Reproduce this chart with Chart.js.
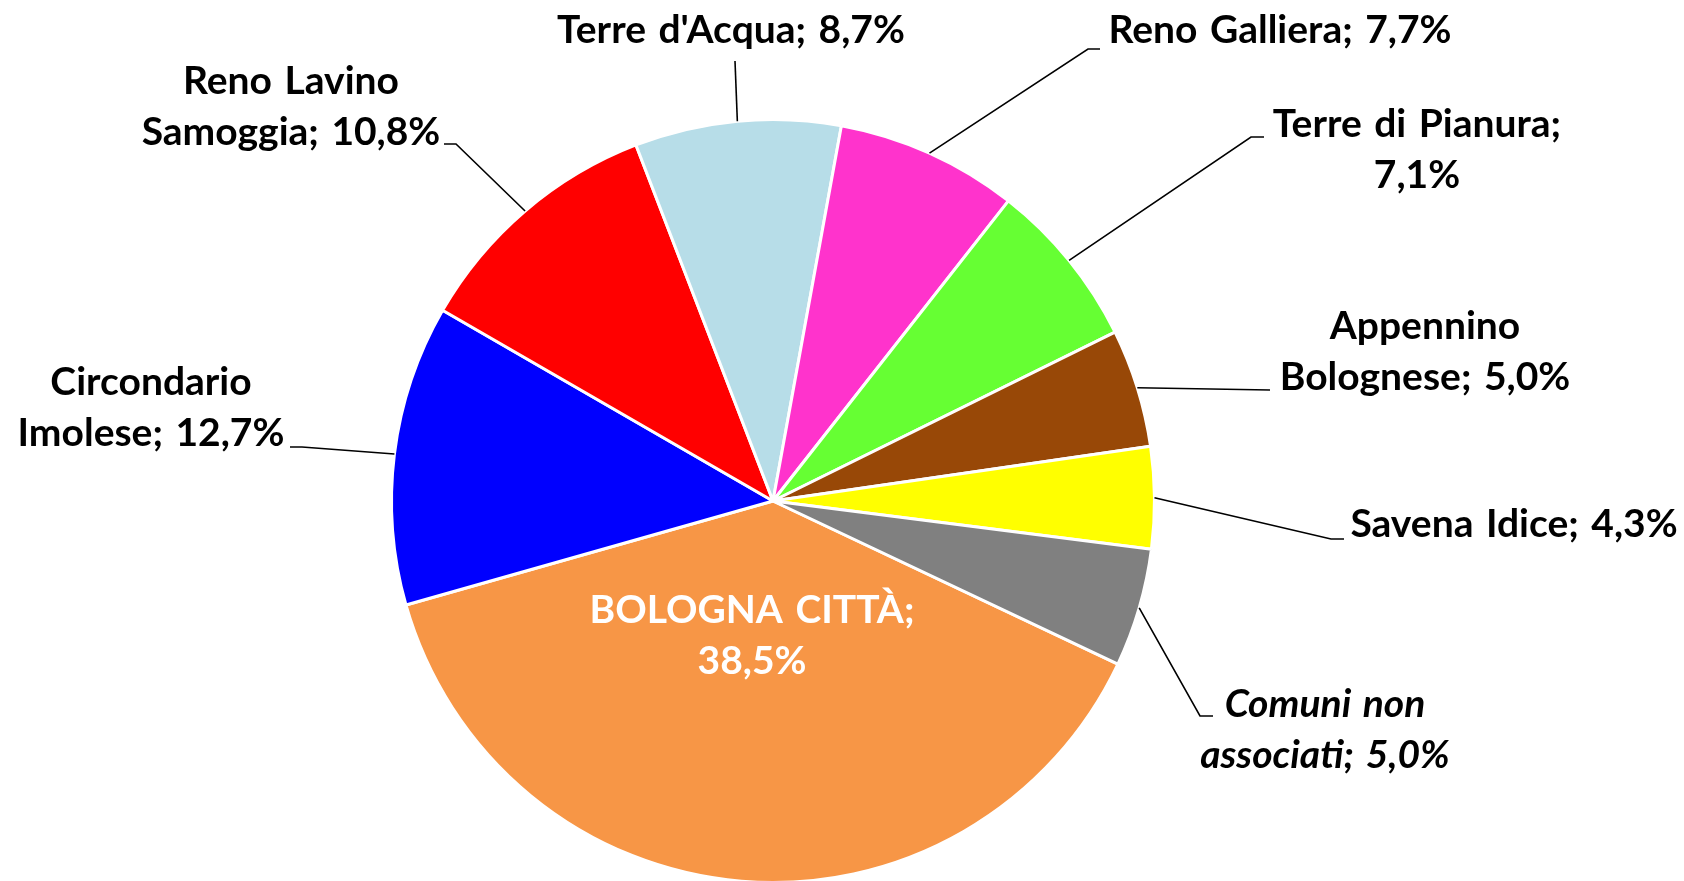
<!DOCTYPE html>
<html>
<head>
<meta charset="utf-8">
<script src="https://cdn.jsdelivr.net/npm/chart.js@4/dist/chart.umd.min.js"></script>
<style>
  html, body { margin: 0; padding: 0; background: #fff; overflow: hidden; }
  canvas { display: block; }
</style>
</head>
<body>
<canvas id="pieChart" width="1684" height="884"></canvas>
<script>
'use strict';

// share of the total, per area (percent)
const categories = ['BOLOGNA CITTÀ', 'Circondario Imolese', 'Reno Lavino Samoggia', "Terre d'Acqua", 'Reno Galliera', 'Terre di Pianura', 'Appennino Bolognese', 'Savena Idice', 'Comuni non associati'];
const shares = [38.5, 12.7, 10.8, 8.7, 7.7, 7.1, 5.0, 4.3, 5.0];
const sliceColors = ['#F79646', '#0000FF', '#FF0000', '#B7DDE8', '#FF33CC', '#66FF33', '#984807', '#FFFF00', '#808080'];

// where each data label sits (text centre x, first baseline y), wrap width and leader bends
const labelLayout = [
  {x: 752, y: 623, wrap: 330, color: '#ffffff'},
  {x: 151, y: 395, wrap: 310, leader: [[302, 447], [290, 447]]},
  {x: 291, y: 94, wrap: 340, leader: [[456, 144], [444, 144]]},
  {x: 731, y: 43, wrap: Infinity, leader: [[735, 61]]},
  {x: 1280, y: 43, wrap: Infinity, leader: [[1088, 49], [1100, 49]]},
  {x: 1417, y: 137, wrap: 330, leader: [[1251, 137], [1264, 137]]},
  {x: 1425, y: 339, wrap: 330, leader: [[1270, 390]]},
  {x: 1514, y: 537, wrap: Infinity, leader: [[1331, 539], [1344, 539]]},
  {x: 1325, y: 717, wrap: 300, italic: true, leader: [[1200, 716], [1213, 716]]}
];

const FONT_SIZE = 39;
const LINE_HEIGHT = 51;

function labelText(i) {
  return categories[i] + '; ' + shares[i].toFixed(1).replace('.', ',') + '%';
}

function wrapText(ctx, text, maxWidth) {
  const words = text.split(' ');
  const lines = [];
  let line = '';
  words.forEach(w => {
    const test = line ? line + ' ' + w : w;
    if (line && ctx.measureText(test).width > maxWidth) {
      lines.push(line);
      line = w;
    } else {
      line = test;
    }
  });
  if (line) lines.push(line);
  return lines;
}

const pieLabels = {
  id: 'pieLabels',
  afterDatasetsDraw(chart) {
    const ctx = chart.ctx;
    const arcs = chart.getDatasetMeta(0).data;
    ctx.save();
    arcs.forEach((arc, i) => {
      const lay = labelLayout[i];
      const p = arc.getProps(['x', 'y', 'startAngle', 'endAngle', 'outerRadius']);
      const mid = (p.startAngle + p.endAngle) / 2;
      if (lay.leader) {
        ctx.beginPath();
        ctx.moveTo(p.x + Math.cos(mid) * p.outerRadius, p.y + Math.sin(mid) * p.outerRadius);
        lay.leader.forEach(pt => ctx.lineTo(pt[0], pt[1]));
        ctx.strokeStyle = '#000000';
        ctx.lineWidth = 1.6;
        ctx.stroke();
      }
      ctx.font = (lay.italic ? 'italic ' : '') + 'bold ' + FONT_SIZE + 'px Lato, "Open Sans", sans-serif';
      ctx.wordSpacing = '3px';
      ctx.fillStyle = lay.color || '#000000';
      ctx.textAlign = 'center';
      ctx.textBaseline = 'alphabetic';
      wrapText(ctx, labelText(i), lay.wrap).forEach((ln, k) => {
        ctx.fillText(ln, lay.x, lay.y + k * LINE_HEIGHT);
      });
    });
    ctx.restore();
  }
};

new Chart(document.getElementById('pieChart'), {
  type: 'pie',
  data: {
    labels: categories,
    datasets: [{
      data: shares,
      backgroundColor: sliceColors,
      borderColor: '#ffffff',
      borderWidth: 3
    }]
  },
  options: {
    responsive: false,
    animation: false,
    rotation: 115.3,
    layout: { padding: { left: 0, right: 138, top: 118, bottom: 0 } },
    plugins: {
      legend: { display: false },
      tooltip: { enabled: false }
    }
  },
  plugins: [pieLabels]
});
</script>
</body>
</html>
